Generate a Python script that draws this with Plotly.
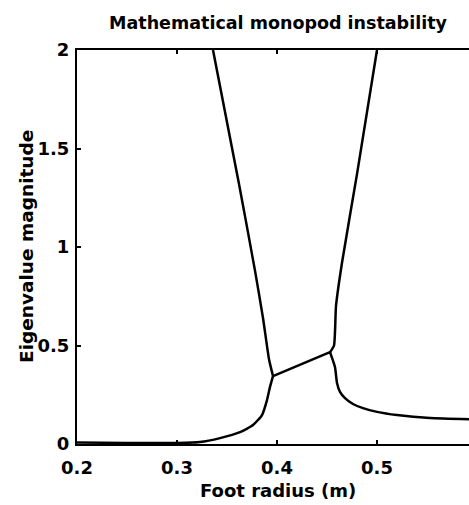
import plotly.graph_objects as go

# Left upper branch (real eigenvalue, decreasing)
left_up_x = [0.336, 0.362, 0.378, 0.386, 0.392, 0.396]
left_up_y = [2.0, 1.32, 0.88, 0.64, 0.43, 0.345]

# Left lower branch (real eigenvalue, increasing)
left_lo_x = [0.20, 0.25, 0.30, 0.323, 0.343, 0.363, 0.376, 0.385, 0.390, 0.393, 0.396]
left_lo_y = [0.008, 0.005, 0.005, 0.010, 0.030, 0.060, 0.096, 0.147, 0.223, 0.29, 0.345]

# Complex pair magnitude
complex_x = [0.396, 0.453]
complex_y = [0.345, 0.466]

# Right upper branch
right_up_x = [0.453, 0.457, 0.459, 0.465, 0.480, 0.500]
right_up_y = [0.466, 0.50, 0.70, 0.92, 1.37, 2.0]

# Right lower branch
right_lo_x = [0.453, 0.458, 0.460, 0.463, 0.468, 0.476, 0.486, 0.500, 0.520, 0.553, 0.592]
right_lo_y = [0.466, 0.39, 0.31, 0.265, 0.233, 0.203, 0.182, 0.163, 0.147, 0.132, 0.126]

x_ticks = [0.2, 0.3, 0.4, 0.5]
x_tick_labels = ["0.2", "0.3", "0.4", "0.5"]
y_ticks = [0, 0.5, 1, 1.5, 2]
y_tick_labels = ["0", "0.5", "1", "1.5", "2"]

FONT = "DejaVu Sans, sans-serif"

fig = go.Figure()
curves = [
    (left_up_x, left_up_y, "spline"),
    (left_lo_x, left_lo_y, "spline"),
    (complex_x, complex_y, "linear"),
    (right_up_x, right_up_y, "spline"),
    (right_lo_x, right_lo_y, "spline"),
]
for xs, ys, shape in curves:
    ln = dict(color="black", width=2.5, shape=shape)
    if shape == "spline":
        ln["smoothing"] = 0.5
    fig.add_trace(go.Scatter(x=xs, y=ys, mode="lines", line=ln,
                             showlegend=False, hoverinfo="skip"))

fig.update_layout(
    width=469, height=505,
    margin=dict(l=77, r=0, t=50, b=61),
    paper_bgcolor="white", plot_bgcolor="white",
    font=dict(family=FONT, color="black"),
    title=dict(text="<b>Mathematical monopod instability</b>", font=dict(size=17.5, family=FONT),
               xref="container", x=278 / 469, xanchor="center",
               yref="container", y=1 - 23 / 505, yanchor="middle"),
    xaxis=dict(range=[0.2, 0.592], tickvals=x_ticks, ticktext=["<b>%s</b>" % t for t in x_tick_labels],
               ticks="inside", ticklen=4, tickwidth=1.5, tickcolor="black",
               showline=True, linecolor="black", linewidth=2, mirror="ticks",
               showgrid=False, zeroline=False, tickfont=dict(size=18, family=FONT),
               ticklabelstandoff=6),
    yaxis=dict(range=[0, 2], tickvals=y_ticks, ticktext=["<b>%s</b>" % t for t in y_tick_labels],
               ticks="inside", ticklen=4, tickwidth=1.5, tickcolor="black",
               showline=True, linecolor="black", linewidth=2, mirror=False,
               showgrid=False, zeroline=False, tickfont=dict(size=18, family=FONT),
               ticklabelstandoff=2),
    annotations=[
        dict(text="<b>Foot radius (m)</b>", xref="paper", yref="paper",
             x=(278 - 77) / 392, y=0, yshift=-46, xanchor="center", yanchor="middle",
             showarrow=False, font=dict(size=18, family=FONT)),
        dict(text="<b>Eigenvalue magnitude</b>", xref="paper", yref="paper",
             x=0, xshift=-51, y=0.5, textangle=-90, xanchor="center", yanchor="middle",
             showarrow=False, font=dict(size=18.5, family=FONT)),
    ],
)

fig.write_html("out.html")
